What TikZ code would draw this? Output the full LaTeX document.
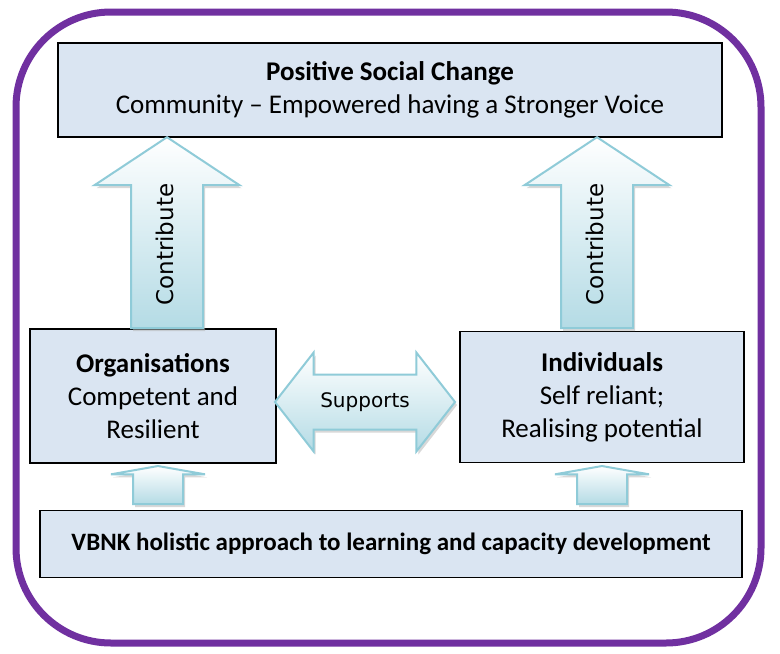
\documentclass[tikz,border=0pt]{standalone}
\usepackage{fontspec}
\setmainfont{Carlito}
\newfontfamily\handfont{DejaVu Sans}
\usetikzlibrary{shapes.arrows,shadows}

\definecolor{framepurple}{HTML}{7030A0}
\definecolor{boxfill}{HTML}{DAE5F2}
\definecolor{arrline}{HTML}{8FCBD8}
\definecolor{arrfill}{HTML}{B4DBE5}

\tikzset{
  box/.style={draw=black, line width=1.6pt, fill=boxfill, align=center,
    inner sep=0pt, font=\fontsize{27}{33}\selectfont},
  blockarrow/.style={draw=arrline, line width=2pt, inner xsep=0pt,
    top color=white, bottom color=arrfill,
    drop shadow={shadow xshift=2pt, shadow yshift=-3pt, fill=gray!60, opacity=.5}},
  contrib/.style={blockarrow, single arrow, rotate=90, anchor=tip,
    single arrow head extend=36.5pt, single arrow tip angle=113,
    minimum height=191pt, text height=17pt, text depth=5pt, inner ysep=24pt,
    font=\handfont\fontsize{23}{27}\selectfont},
  feed/.style={blockarrow, single arrow, rotate=90, anchor=tip,
    single arrow head extend=22pt, single arrow tip angle=160,
    minimum height=38pt, text height=0pt, text depth=0pt, inner ysep=24pt},
  supp/.style={blockarrow, double arrow,
    double arrow head extend=22pt, double arrow tip angle=104,
    minimum height=180pt, text height=15pt, text depth=4pt, inner ysep=17pt,
    font=\handfont\fontsize{20}{24}\selectfont}
}

\begin{document}
\begin{tikzpicture}[x=1pt,y=-1pt]
  \useasboundingbox (0,0) rectangle (780,654);
  \fill[white] (0,0) rectangle (780,654);

  % outer frame
  \draw[framepurple, line width=7pt, rounded corners=95pt] (16,12) rectangle (761,643);

  % boxes
  \node[box, minimum width=664pt, minimum height=94pt] (change) at (390,90)
    {\textbf{Positive Social Change}\\Community – Empowered having a Stronger Voice};
  \node[box, minimum width=246pt, minimum height=134pt] (org) at (153,396)
    {\textbf{Organisations}\\Competent and\\Resilient};
  \node[box, minimum width=284pt, minimum height=131pt] (ind) at (602,397)
    {\textbf{Individuals}\\Self reliant;\\Realising potential};
  \node[box, minimum width=702pt, minimum height=67pt, font=\fontsize{25}{30}\selectfont] (vbnk) at (391,544)
    {\textbf{VBNK holistic approach to learning and capacity development}};

  % arrows
  \node[contrib] (c1) at (167,136) {Contribute};
  \node[contrib] (c2) at (597,136) {Contribute};
  \node[feed] (f1) at (158,465) {};
  \node[feed] (f2) at (602,465) {};
  \node[supp] (s) at (365,402) {Supports};
\end{tikzpicture}
\end{document}
